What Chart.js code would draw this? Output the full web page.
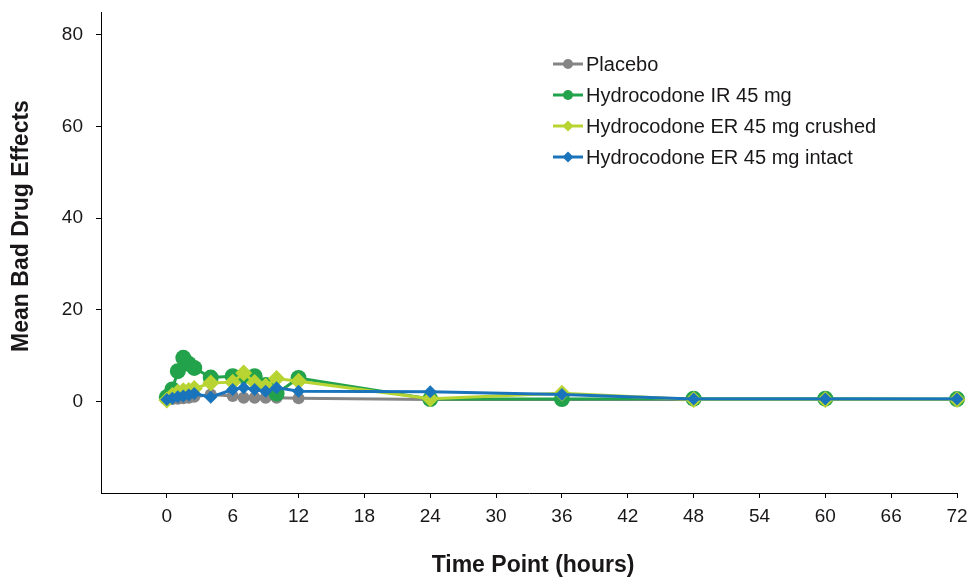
<!DOCTYPE html>
<html>
<head>
<meta charset="utf-8">
<script src="https://cdn.jsdelivr.net/npm/chart.js@4/dist/chart.umd.min.js"></script>
<style>
  html, body { margin: 0; padding: 0; background: #ffffff; }
  #wrap { width: 970px; height: 577px; position: relative; }
</style>
</head>
<body>
<div id="wrap"><canvas id="c" width="970" height="577"></canvas></div>
<script>
// ---- data ----
const timePoints = [0, 0.5, 1, 1.5, 2, 2.5, 4, 6, 7, 8, 9, 10, 12, 24, 36, 48, 60, 72];
const placebo    = [0.4, 0.5, 0.6, 0.7, 0.8, 1.0, 1.5, 1.2, 0.8, 0.8, 0.8, 0.8, 0.7, 0.4, 0.4, 0.4, 0.4, 0.4];
const hydroIR    = [0.9, 2.6, 6.6, 9.5, 8.2, 7.3, 5.2, 5.5, 5.5, 5.5, 3.6, 1.7, 5.1, 0.5, 0.5, 0.6, 0.6, 0.5];
const erCrushed  = [0.3, 1.3, 2.0, 2.3, 2.4, 2.8, 4.0, 4.2, 6.2, 4.1, 3.3, 5.0, 4.4, 0.6, 1.8, 0.4, 0.4, 0.4];
const erIntact   = [0.4, 0.7, 1.0, 1.2, 1.4, 1.7, 0.9, 2.6, 3.0, 2.6, 2.2, 3.0, 2.2, 2.1, 1.5, 0.5, 0.5, 0.5];
const seriesNames = ['Placebo', 'Hydrocodone IR 45 mg', 'Hydrocodone ER 45 mg crushed', 'Hydrocodone ER 45 mg intact'];
const xTickValues = [0, 6, 12, 18, 24, 30, 36, 42, 48, 54, 60, 66, 72];
const yTickValues = [0, 20, 40, 60, 80];
const xTitle = 'Time Point (hours)';
const yTitle = 'Mean Bad Drug Effects';

const FONT = 'Arimo, "Liberation Sans", Arial, sans-serif';
const TEXT = '#1a1718';

function pts(vals) { return timePoints.map((t, i) => ({ x: t, y: vals[i] })); }

const styles = [
  { color: '#858585', style: 'circle',  r: 6,   order: 4 },
  { color: '#22a24a', style: 'circle',  r: 8,   order: 3 },
  { color: '#b8d433', style: 'rectRot', r: 8.5, order: 2 },
  { color: '#1a74bb', style: 'rectRot', r: 6.5, order: 1 }
];
const valueSets = [placebo, hydroIR, erCrushed, erIntact];

const datasets = valueSets.map((v, i) => ({
  label: seriesNames[i],
  data: pts(v),
  borderColor: styles[i].color,
  backgroundColor: styles[i].color,
  pointBackgroundColor: styles[i].color,
  pointBorderColor: styles[i].color,
  borderWidth: 3,
  pointStyle: styles[i].style,
  pointRadius: styles[i].r,
  pointBorderWidth: 0,
  pointHoverRadius: styles[i].r,
  tension: 0,
  order: styles[i].order,
  clip: false
}));

const customLegend = {
  id: 'customLegend',
  afterDraw(chart) {
    const ctx = chart.ctx;
    ctx.save();
    const x0 = 553, x1 = 583, ys = [64, 95, 126, 157];
    seriesNames.forEach((name, i) => {
      const y = ys[i];
      const s = styles[i];
      ctx.strokeStyle = s.color;
      ctx.lineWidth = 3;
      ctx.beginPath(); ctx.moveTo(x0, y); ctx.lineTo(x1, y); ctx.stroke();
      ctx.fillStyle = s.color;
      ctx.beginPath();
      const cx = (x0 + x1) / 2;
      if (s.style === 'circle') {
        ctx.arc(cx, y, 5, 0, Math.PI * 2);
      } else {
        const r = 5.5;
        ctx.moveTo(cx, y - r); ctx.lineTo(cx + r, y); ctx.lineTo(cx, y + r); ctx.lineTo(cx - r, y); ctx.closePath();
      }
      ctx.fill();
      ctx.fillStyle = TEXT;
      ctx.font = '20px ' + FONT;
      ctx.textBaseline = 'middle';
      ctx.textAlign = 'left';
      ctx.fillText(name, 586, y + 1);
    });
    ctx.font = 'bold 23px ' + FONT;
    ctx.textAlign = 'center';
    ctx.textBaseline = 'middle';
    ctx.fillStyle = TEXT;
    // x-axis title
    ctx.fillText(xTitle, 533, 566);
    // y-axis title
    ctx.translate(22, 226);
    ctx.rotate(-Math.PI / 2);
    ctx.fillText(yTitle, 0, 0);
    ctx.restore();
  }
};

new Chart(document.getElementById('c'), {
  type: 'line',
  data: { datasets },
  options: {
    responsive: false,
    animation: false,
    events: [],
    layout: { padding: { top: 12, right: 13, bottom: 0, left: 0 } },
    plugins: { legend: { display: false }, tooltip: { enabled: false } },
    scales: {
      x: {
        type: 'linear',
        min: -6, max: 72,
        afterBuildTicks: s => { s.ticks = xTickValues.map(v => ({ value: v })); },
        afterFit: s => { s.height = 84; s.paddingLeft = 0; s.paddingRight = 0; },
        grid: { drawOnChartArea: false, drawTicks: true, tickLength: 5, color: '#000' },
        border: { display: true, color: '#000', width: 1 },
        ticks: { color: TEXT, font: { family: FONT, size: 19 }, padding: 7, maxRotation: 0, autoSkip: false },
        title: { display: false }
      },
      y: {
        type: 'linear',
        min: -20, max: 85,
        afterBuildTicks: s => { s.ticks = yTickValues.map(v => ({ value: v })); },
        afterFit: s => { s.width = 101; s.paddingTop = 0; s.paddingBottom = 0; },
        grid: { drawOnChartArea: false, drawTicks: true, tickLength: 5, color: '#000' },
        border: { display: true, color: '#000', width: 1 },
        ticks: { color: TEXT, font: { family: FONT, size: 19 }, padding: 13 },
        title: { display: false }
      }
    }
  },
  plugins: [customLegend]
});
</script>
</body>
</html>
